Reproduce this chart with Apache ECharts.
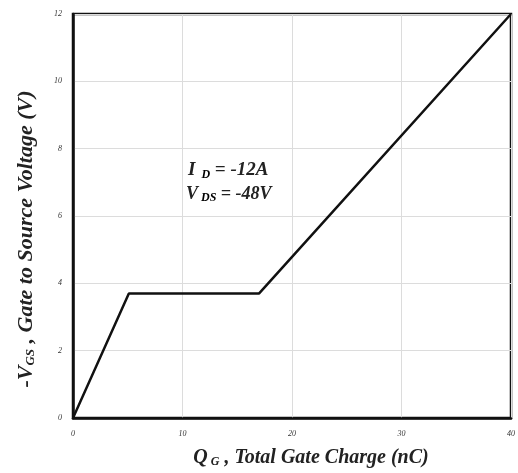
<!DOCTYPE html>
<html><head><meta charset="utf-8">
<script src="https://cdn.jsdelivr.net/npm/echarts@6/dist/echarts.min.js"></script>
<style>html,body{margin:0;padding:0;background:#fff}#c{width:518px;height:473px}</style>
</head><body><div id="c"></div>
<script>
const gateCharge = [0, 5.1, 17.0, 40];
const gateVoltage = [0, 3.7, 3.7, 12];
const xTicks = [0, 10, 20, 30, 40];
const yTicks = [0, 2, 4, 6, 8, 10, 12];

const serif = 'Liberation Serif';
const chart = echarts.init(document.getElementById('c'));
const subStyle = {fontFamily: serif, fontStyle: 'italic', fontWeight: 'bold', fontSize: 12, color: '#222', padding: [8, 0, 0, 0]};
const mainX = {fontFamily: serif, fontStyle: 'italic', fontWeight: 'bold', fontSize: 20, color: '#222'};
const mainY = {fontFamily: serif, fontStyle: 'italic', fontWeight: 'bold', fontSize: 22, color: '#222'};
chart.setOption({
  animation: false,
  grid: {left: 73, right: 5, top: 14, bottom: 53, show: true, borderColor: '#111', borderWidth: 2.5},
  xAxis: {
    type: 'value', min: 0, max: 40, interval: 10,
    axisLine: {show: true, lineStyle: {color: '#111', width: 2.5}},
    axisTick: {show: false},
    splitLine: {lineStyle: {color: '#dcdcdc', width: 1}},
    axisLabel: {fontFamily: serif, fontStyle: 'italic', fontSize: 8, color: '#333', margin: 12,
      formatter: v => xTicks.includes(v) ? String(v) : ''},
    name: '{m|Q}{s| G}{m| , Total Gate Charge (nC)}',
    nameLocation: 'middle', nameGap: 30,
    nameTextStyle: {padding: [0, 0, 0, 38], rich: {m: mainX, s: subStyle}}
  },
  yAxis: {
    type: 'value', min: 0, max: 12, interval: 2,
    axisLine: {show: true, lineStyle: {color: '#111', width: 2.5}},
    axisTick: {show: false},
    splitLine: {lineStyle: {color: '#dcdcdc', width: 1}},
    axisLabel: {fontFamily: serif, fontStyle: 'italic', fontSize: 8, color: '#333', margin: 11,
      formatter: v => yTicks.includes(v) ? String(v) : ''},
    name: '{m|-V}{s|GS}{m| , Gate to Source Voltage (V)}',
    nameLocation: 'middle', nameGap: 36, nameRotate: 90,
    nameTextStyle: {padding: [0, 46, 0, 0], rich: {m: mainY, s: Object.assign({}, subStyle, {fontSize: 13, padding: [9, 0, 0, 0]})}}
  },
  series: [{
    type: 'line', data: gateCharge.map((x, i) => [x, gateVoltage[i]]),
    symbol: 'none', lineStyle: {color: '#111', width: 2.5}
  }],
  graphic: [
    {type: 'text', left: 188, top: 161, style: {
      text: '{m|I}{s|  D}{m| = -12A}',
      rich: {m: {fontFamily: serif, fontStyle: 'italic', fontWeight: 'bold', fontSize: 19, fill: '#222'}, s: subStyle}}},
    {type: 'text', left: 186, top: 185, style: {
      text: '{m|V}{s| DS}{m| = -48V}',
      rich: {m: {fontFamily: serif, fontStyle: 'italic', fontWeight: 'bold', fontSize: 18, fill: '#222'}, s: subStyle}}}
  ]
});
</script></body></html>
